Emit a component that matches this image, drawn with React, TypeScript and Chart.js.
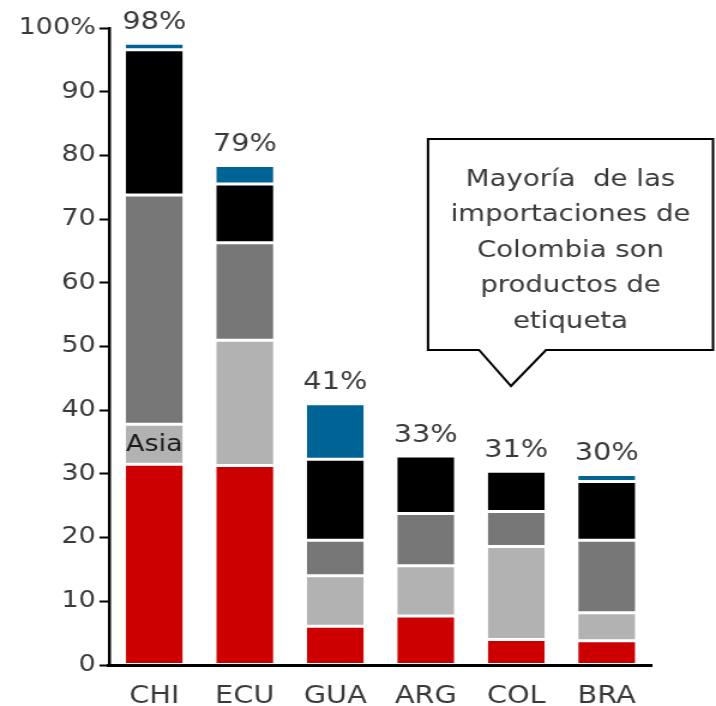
import React, { useEffect, useRef } from 'react';
import { Chart, registerables } from 'chart.js';

Chart.register(...registerables);

// ---- data ----
const categories = ['CHI', 'ECU', 'GUA', 'ARG', 'COL', 'BRA'];
const redValues = [31.5, 31.3, 6.1, 7.7, 4.0, 3.8];
const lightGrayValues = [6.3, 19.7, 7.9, 7.9, 14.6, 4.4];
const darkGrayValues = [36.0, 15.3, 5.6, 8.2, 5.5, 11.4];
const blackValues = [22.8, 9.2, 12.7, 9.0, 6.3, 9.2];
const blueValues = [1.0, 2.9, 8.7, 0, 0, 1.1];
const totalLabels = ['98%', '79%', '41%', '33%', '31%', '30%'];
const yMin = 0;
const yMax = 100;
const yStep = 10;
const insideLabel = 'Asia';
const calloutLines = ['Mayoría  de las', 'importaciones de', 'Colombia son', 'productos de', 'etiqueta'];

// ---- layout / style ----
const CSS_W = 716;
const CSS_H = 706;
const CANVAS_W = 597;
const S = CSS_W / CANVAS_W; // horizontal stretch
const FONT = "'DejaVu Sans', Verdana, sans-serif";
const TEXT = '#3a3a3a';

const COLORS = {
  red: '#CC0000',
  lightGray: '#B2B2B2',
  darkGray: '#777777',
  black: '#000000',
  blue: '#006395',
};

const overlayPlugin = {
  id: 'overlay',
  afterDatasetsDraw(chart: any) {
    const ctx = chart.ctx;
    const xs = chart.scales.x;
    const ys = chart.scales.y;
    ctx.save();
    // totals above bars
    ctx.font = `24px ${FONT}`;
    ctx.fillStyle = TEXT;
    ctx.textAlign = 'center';
    ctx.textBaseline = 'alphabetic';
    categories.forEach((_, i) => {
      const sum = redValues[i] + lightGrayValues[i] + darkGrayValues[i] + blackValues[i] + blueValues[i];
      const x = xs.getPixelForValue(i);
      const y = ys.getPixelForValue(sum);
      ctx.fillText(totalLabels[i], x, y - 14.5);
    });
    // "Asia" inside CHI light-gray segment
    const meta = chart.getDatasetMeta(1);
    const el = meta.data[0];
    if (el) {
      ctx.font = `22.5px ${FONT}`;
      ctx.fillStyle = '#1a1a1a';
      ctx.textBaseline = 'middle';
      ctx.fillText(insideLabel, el.x, (el.y + el.base) / 2 + 1);
    }
    ctx.restore();
  },
  afterDraw(chart: any) {
    const ctx = chart.ctx;
    ctx.save();
    const left = 428 / S;
    const right = 713 / S;
    const top = 139;
    const bottom = 350;
    const pL = 479 / S;
    const pR = 546 / S;
    const tipX = 511 / S;
    const tipY = 386;
    ctx.beginPath();
    ctx.moveTo(left, top);
    ctx.lineTo(right, top);
    ctx.lineTo(right, bottom);
    ctx.lineTo(pR, bottom);
    ctx.lineTo(tipX, tipY);
    ctx.lineTo(pL, bottom);
    ctx.lineTo(left, bottom);
    ctx.closePath();
    ctx.fillStyle = '#ffffff';
    ctx.fill();
    ctx.lineWidth = 2;
    ctx.lineJoin = 'miter';
    ctx.strokeStyle = '#000000';
    ctx.stroke();
    ctx.font = `23px ${FONT}`;
    ctx.fillStyle = TEXT;
    ctx.textAlign = 'center';
    ctx.textBaseline = 'middle';
    const cx = (left + right) / 2;
    const firstY = 180;
    const lh = 35.5;
    calloutLines.forEach((line, i) => {
      ctx.fillText(line, cx, firstY + i * lh);
    });
    ctx.restore();
  },
};

function makeDataset(label: string, data: number[], color: string) {
  return {
    label,
    data,
    backgroundColor: color,
    borderColor: '#ffffff',
    borderWidth: { top: 1.5, bottom: 1.5, left: 0, right: 0 },
    borderSkipped: false,
    barPercentage: 0.63,
    categoryPercentage: 1,
  };
}

export default function App() {
  const canvasRef = useRef<HTMLCanvasElement | null>(null);

  useEffect(() => {
    if (!canvasRef.current) return;
    const chart = new Chart(canvasRef.current, {
      type: 'bar',
      data: {
        labels: categories,
        datasets: [
          makeDataset('Rojo', redValues, COLORS.red),
          makeDataset('Asia', lightGrayValues, COLORS.lightGray),
          makeDataset('Gris oscuro', darkGrayValues, COLORS.darkGray),
          makeDataset('Negro', blackValues, COLORS.black),
          makeDataset('Azul', blueValues, COLORS.blue),
        ],
      },
      options: {
        responsive: false,
        animation: false,
        devicePixelRatio: 1,
        layout: {
          padding: { top: 28, right: CANVAS_W - 652 / S, left: 0, bottom: 0 },
        },
        plugins: {
          legend: { display: false },
          tooltip: { enabled: false },
        },
        scales: {
          x: {
            stacked: true,
            grid: { display: false },
            border: { display: true, color: '#000000', width: 3, z: 1 },
            ticks: {
              color: TEXT,
              font: { family: FONT, size: 24 },
              padding: 9,
              maxRotation: 0,
            },
            afterFit: (s: any) => {
              s.height = 41;
            },
          },
          y: {
            stacked: true,
            min: yMin,
            max: yMax,
            ticks: {
              stepSize: yStep,
              color: TEXT,
              font: { family: FONT, size: 22.5 },
              padding: 3,
              callback: (v: any) => (Number(v) === 100 ? '100%' : String(v)),
            },
            grid: {
              drawOnChartArea: false,
              drawTicks: true,
              tickLength: 8,
              tickWidth: 2,
              tickColor: '#000000',
            },
            border: { display: true, color: '#000000', width: 2.5 },
            afterFit: (s: any) => {
              s.width = 109 / S;
            },
          },
        },
      },
      plugins: [overlayPlugin],
    } as any);
    return () => chart.destroy();
  }, []);

  return (
    <div style={{ position: 'absolute', left: 0, top: 0, width: CSS_W, height: CSS_H, background: '#fff' }}>
      <canvas
        ref={canvasRef}
        width={CANVAS_W}
        height={CSS_H}
        style={{ width: `${CSS_W}px`, height: `${CSS_H}px`, display: 'block' }}
      />
    </div>
  );
}
